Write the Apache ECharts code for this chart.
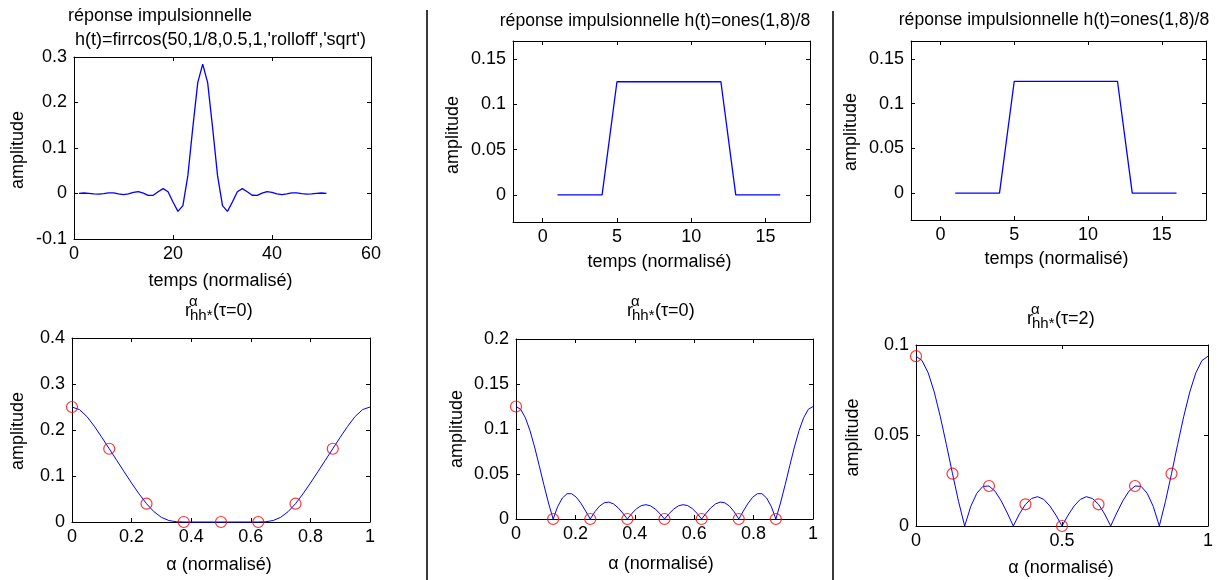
<!DOCTYPE html>
<html>
<head>
<meta charset="utf-8">
<script src="https://cdn.jsdelivr.net/npm/echarts@6/dist/echarts.min.js"></script>
<style>
html,body{margin:0;padding:0;background:#fff;}
#chart{width:1228px;height:580px;}
</style>
</head>
<body>
<div id="chart"></div>
<script>
// ---------- data ----------
// top-left : h(t)=firrcos(50,1/8,0.5,1,'rolloff','sqrt')
const firT = [1,2,3,4,5,6,7,8,9,10,11,12,13,14,15,16,17,18,19,20,21,22,23,24,25,26,
  27,28,29,30,31,32,33,34,35,36,37,38,39,40,41,42,43,44,45,46,47,48,49,50,51];
const firH = [0.0004,0.0011,0.0004,-0.0010,-0.0015,-0.0002,0.0015,0.0013,-0.0010,-0.0025,
  -0.0010,0.0027,0.0041,0.0008,-0.0041,-0.0038,0.0039,0.0106,0.0039,-0.0188,
  -0.0392,-0.0265,0.0392,0.1447,0.2436,0.2842,0.2436,0.1447,0.0392,-0.0265,
  -0.0392,-0.0188,0.0039,0.0106,0.0039,-0.0038,-0.0041,0.0008,0.0041,0.0027,
  -0.0010,-0.0025,-0.0010,0.0013,0.0015,-0.0002,-0.0015,-0.0010,0.0004,0.0011,0.0004];

// top-middle and top-right : h(t)=ones(1,8)/8
const rectT = [1,2,3,4,5,6,7,8,9,10,11,12,13,14,15,16];
const rectH = [0,0,0,0,0.125,0.125,0.125,0.125,0.125,0.125,0.125,0.125,0,0,0,0];

// red circles abscissae (alpha = k/8)
const circleAlpha = [0,0.125,0.25,0.375,0.5,0.625,0.75,0.875];

// bottom-left : r(alpha), tau=0, firrcos
const alphaA = [0,0.025,0.05,0.075,0.1,0.125,0.15,0.175,0.2,0.225,0.25,0.275,0.3,0.325,0.35,0.375,
  0.4,0.425,0.45,0.475,0.5,0.525,0.55,0.575,0.6,0.625,0.65,0.675,0.7,0.725,0.75,0.775,0.8,0.825,
  0.85,0.875,0.9,0.925,0.95,0.975,1];
const rA = [0.2500,0.2443,0.2293,0.2081,0.1841,0.1592,0.1342,0.1092,0.0846,0.0611,0.0398,0.0224,
  0.0101,0.0032,0.0005,0,0,0,0,0,0,0,0,0,0,0,0.0005,0.0032,0.0101,0.0224,0.0398,0.0611,0.0846,
  0.1092,0.1342,0.1592,0.1841,0.2081,0.2293,0.2443,0.2500];
const circA = [0.25,0.1592,0.0398,0,0,0,0.0398,0.1592];

// bottom-middle : r(alpha), tau=0, ones(1,8)/8
const alphaB = [0,0.0156,0.0313,0.0469,0.0625,0.0781,0.0938,0.1094,0.125,0.1406,0.1563,0.1719,
  0.1875,0.2031,0.2188,0.2344,0.25,0.2656,0.2813,0.2969,0.3125,0.3281,0.3438,0.3594,0.375,
  0.3906,0.4063,0.4219,0.4375,0.4531,0.4688,0.4844,0.5,0.5156,0.5313,0.5469,0.5625,0.5781,
  0.5938,0.6094,0.625,0.6406,0.6563,0.6719,0.6875,0.7031,0.7188,0.7344,0.75,0.7656,0.7813,
  0.7969,0.8125,0.8281,0.8438,0.8594,0.875,0.8906,0.9063,0.9219,0.9375,0.9531,0.9688,0.9844,1];
const rB = [0.1250,0.1219,0.1127,0.0984,0.0801,0.0594,0.0381,0.0178,0,
  0.0140,0.0234,0.0281,0.0281,0.0242,0.0174,0.0089,0,
  0.0081,0.0143,0.0180,0.0188,0.0168,0.0125,0.0066,0,
  0.0064,0.0115,0.0149,0.0159,0.0146,0.0111,0.0060,0,
  0.0060,0.0111,0.0146,0.0159,0.0149,0.0115,0.0064,0,
  0.0066,0.0125,0.0168,0.0188,0.0180,0.0143,0.0081,0,
  0.0089,0.0174,0.0242,0.0281,0.0281,0.0234,0.0140,0,
  0.0178,0.0381,0.0594,0.0801,0.0984,0.1127,0.1219,0.1250];
const circB = [0.125,0,0,0,0,0,0,0];

// bottom-right : r(alpha), tau=2, ones(1,8)/8
const alphaC = [0,0.0208,0.0417,0.0625,0.0833,0.1042,0.125,0.1458,0.1667,0.1875,0.2083,0.2292,
  0.25,0.2708,0.2917,0.3125,0.3333,0.3542,0.375,0.3958,0.4167,0.4375,0.4583,0.4792,0.5,
  0.5208,0.5417,0.5625,0.5833,0.6042,0.625,0.6458,0.6667,0.6875,0.7083,0.7292,0.75,0.7708,
  0.7917,0.8125,0.8333,0.8542,0.875,0.8958,0.9167,0.9375,0.9583,0.9792,1];
const rC = [0.0938,0.0914,0.0846,0.0740,0.0604,0.0449,0.0289,0.0135,0,
  0.0108,0.0181,0.0219,0.0221,0.0192,0.0139,0.0072,0,
  0.0067,0.0120,0.0152,0.0162,0.0147,0.0111,0.0060,0,
  0.0060,0.0111,0.0147,0.0162,0.0152,0.0120,0.0067,0,
  0.0072,0.0139,0.0192,0.0221,0.0219,0.0181,0.0108,0,
  0.0135,0.0289,0.0449,0.0604,0.0740,0.0846,0.0914,0.0938];
const circC = [0.0938,0.0289,0.0221,0.0120,0,0.0120,0.0221,0.0289];

// tick values
const ticksRectX = [0,5,10,15];
const ticksRectY = [0,0.05,0.1,0.15];

// texts
const titleFir1 = 'réponse impulsionnelle';
const titleFir2 = "h(t)=firrcos(50,1/8,0.5,1,'rolloff','sqrt')";
const titleRect = 'réponse impulsionnelle h(t)=ones(1,8)/8';
const xNameT = 'temps (normalisé)';
const xNameA = 'α (normalisé)';
const yName = 'amplitude';

// ---------- layout ----------
const FONT = '"Liberation Sans", Arial, Helvetica, sans-serif';
const grids = [
  {left:74,  top:57,  width:297, height:182},  // 0 top-left
  {left:72,  top:338, width:298, height:184},  // 1 bottom-left
  {left:513, top:41,  width:297, height:181},  // 2 top-middle
  {left:516, top:339, width:297, height:180},  // 3 bottom-middle
  {left:911, top:41,  width:295, height:179},  // 4 top-right
  {left:916, top:345, width:292, height:181}   // 5 bottom-right
];
const axisCfg = [
  {x:{min:0,max:60,interval:20},           y:{min:-0.1,max:0.3,interval:0.1}},
  {x:{min:0,max:1,interval:0.2},           y:{min:0,max:0.4,interval:0.1}},
  {x:{min:-2,max:18,custom:ticksRectX},    y:{min:-0.03,max:0.17,custom:ticksRectY}},
  {x:{min:0,max:1,interval:0.2},           y:{min:0,max:0.2,interval:0.05}},
  {x:{min:-2,max:18,custom:ticksRectX},    y:{min:-0.03,max:0.17,custom:ticksRectY}},
  {x:{min:0,max:1,interval:0.5},           y:{min:0,max:0.1,interval:0.05}}
];

function mkAxis(gi, c, position, showLabel){
  const a = {
    type:'value', gridIndex:gi, min:c.min, max:c.max, position:position,
    axisLine:{show:true, onZero:false, lineStyle:{color:'#000', width:1}},
    axisTick:{show:true, inside:true, length:4, lineStyle:{color:'#000', width:1}},
    axisLabel:{show:showLabel, color:'#000', fontSize:18, fontFamily:FONT,
      margin:(position==='bottom'?6:7), showMinLabel:true, showMaxLabel:true, hideOverlap:false},
    splitLine:{show:false}
  };
  if (c.custom){
    a.axisTick.customValues = c.custom;
    a.axisLabel.customValues = c.custom;
  } else {
    a.interval = c.interval;
  }
  return a;
}
const xAxes = [], yAxes = [];
axisCfg.forEach((c,i)=>{
  xAxes.push(mkAxis(i, c.x, 'bottom', true));
  xAxes.push(mkAxis(i, c.x, 'top', false));
  yAxes.push(mkAxis(i, c.y, 'left', true));
  yAxes.push(mkAxis(i, c.y, 'right', false));
});

function zip(a,b){ return a.map((v,i)=>[v,b[i]]); }
function lineSeries(gi, xs, ys, w){
  return {type:'line', xAxisIndex:2*gi, yAxisIndex:2*gi, data:zip(xs,ys),
    showSymbol:false, symbol:'none', clip:false, silent:true,
    lineStyle:{color:'#0000ff', width:w}, z:3};
}
function circleSeries(gi, xs, ys){
  return {type:'scatter', xAxisIndex:2*gi, yAxisIndex:2*gi, data:zip(xs,ys),
    symbol:'circle', symbolSize:11, clip:false, silent:true,
    itemStyle:{color:'rgba(0,0,0,0)', borderColor:'#ff0000', borderWidth:1.2}, z:4};
}
const series = [
  lineSeries(0, firT, firH, 1.3),
  lineSeries(1, alphaA, rA, 1), circleSeries(1, circleAlpha, circA),
  lineSeries(2, rectT, rectH, 1.3),
  lineSeries(3, alphaB, rB, 1), circleSeries(3, circleAlpha, circB),
  lineSeries(4, rectT, rectH, 1.3),
  lineSeries(5, alphaC, rC, 1), circleSeries(5, circleAlpha, circC)
];

// ---------- text graphics ----------
function txt(s, x, y, size, align, rot){
  const e = {type:'text', x:x, y:y, silent:true,
    style:{text:s, fill:'#000', font:size+'px '+FONT,
      textAlign:align||'center', align:align||'center',
      textVerticalAlign:'middle', verticalAlign:'middle'}};
  if (rot) e.rotation = rot;
  return e;
}
const g = [];
// separators
g.push({type:'line', silent:true, shape:{x1:427,y1:10,x2:427,y2:580}, style:{stroke:'#3a3a3a', lineWidth:2}});
g.push({type:'line', silent:true, shape:{x1:833,y1:11,x2:833,y2:580}, style:{stroke:'#3a3a3a', lineWidth:2}});
// top titles
g.push(txt(titleFir1, 68, 16, 18, 'left'));
g.push(txt(titleFir2, 75, 40, 18, 'left'));
g.push(txt(titleRect, 655, 21.5, 17.6, 'center'));
g.push(txt(titleRect, 1054, 20.5, 17.6, 'center'));
// r^alpha_hh*(tau) titles
function rTitle(x0, ym, tau){
  g.push(txt('r', x0, ym, 18, 'left'));
  g.push(txt('α', x0+4, ym-9.5, 15, 'left'));
  g.push(txt('hh*', x0+5, ym+4, 15, 'left'));
  g.push(txt('(τ='+tau+')', x0+28, ym, 18, 'left'));
}
rTitle(185, 311.5, 0);
rTitle(627, 311.5, 0);
rTitle(1027, 319.5, 2);
// x axis names
g.push(txt(xNameT, 220.5, 281, 18));
g.push(txt(xNameA, 219, 565, 18));
g.push(txt(xNameT, 659.5, 262.5, 18));
g.push(txt(xNameA, 661, 564, 18));
g.push(txt(xNameT, 1056.5, 259, 18));
g.push(txt(xNameA, 1061, 568, 18));
// y axis names
const R = Math.PI/2;
g.push(txt(yName, 18, 150, 18, 'center', R));
g.push(txt(yName, 18, 431, 18, 'center', R));
g.push(txt(yName, 453.5, 135, 18, 'center', R));
g.push(txt(yName, 457.5, 429, 18, 'center', R));
g.push(txt(yName, 851.5, 132, 18, 'center', R));
g.push(txt(yName, 853.5, 437.5, 18, 'center', R));

const chart = echarts.init(document.getElementById('chart'), null, {renderer:'canvas'});
chart.setOption({
  animation:false,
  backgroundColor:'#ffffff',
  textStyle:{fontFamily:FONT},
  grid: grids.map(gr=>Object.assign({containLabel:false, show:false}, gr)),
  xAxis: xAxes,
  yAxis: yAxes,
  series: series,
  graphic: g
});
</script>
</body>
</html>
